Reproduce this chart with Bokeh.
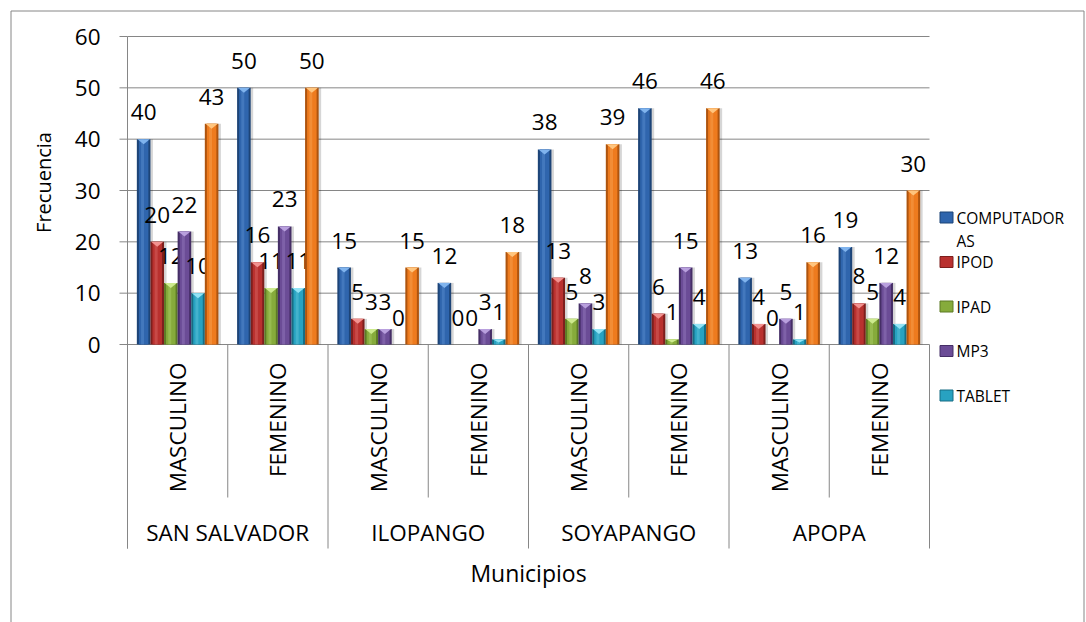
import math

from bokeh.core.properties import value
from bokeh.embed import file_html
from bokeh.models import Range1d
from bokeh.plotting import figure
from bokeh.resources import INLINE

# ---- data -------------------------------------------------------------
municipios = ["SAN SALVADOR", "ILOPANGO", "SOYAPANGO", "APOPA"]
generos = ["MASCULINO", "FEMENINO"]

computadoras = [40, 50, 15, 12, 38, 46, 13, 19]
ipod = [20, 16, 5, 0, 13, 6, 4, 8]
ipad = [12, 11, 3, 0, 5, 1, 0, 5]
mp3 = [22, 23, 3, 3, 8, 15, 5, 12]
tablet = [10, 11, 0, 1, 3, 4, 1, 4]
total = [43, 50, 15, 18, 39, 46, 16, 30]

series_names = ["COMPUTADORAS", "IPOD", "IPAD", "MP3", "TABLET", "TOTAL"]
series_values = [computadoras, ipod, ipad, mp3, tablet, total]
legend_names = series_names[:5]

y_ticks = [0, 10, 20, 30, 40, 50, 60]
y_title = "Frecuencia"
x_title = "Municipios"

# ---- styling ----------------------------------------------------------
# (main, edge, highlight) shades for each series
shades = [
    ("#2F65AD", "#1D4477", "#80B4EE"),
    ("#B9312F", "#7D1F1D", "#F29290"),
    ("#86AB3B", "#5C7A25", "#CDEA8E"),
    ("#6B4C96", "#452E66", "#B9A0DE"),
    ("#28A2C1", "#166D84", "#92E3F5"),
    ("#EE7B1E", "#AE540E", "#FFC57E"),
]
FONT = value("Open Sans")
AXIS_GRAY = "#868686"

W, H = 1086, 622
PL, PR, PT, PB = 127, 929, 36, 344          # plot area in pixels
n_cat = len(municipios) * len(generos)
XU = (PR - PL) / n_cat                        # pixels per category
YU = (PB - PT) / (y_ticks[-1] - y_ticks[0])   # pixels per unit of frequency


def sx(px):
    return (px - PL) / XU


def sy(py):
    return (PB - py) / YU


p = figure(
    width=W, height=H,
    x_range=Range1d(sx(0), sx(W)), y_range=Range1d(sy(H), sy(0)),
    min_border=0, toolbar_location=None, output_backend="svg",
    x_axis_location=None, y_axis_location=None,
    outline_line_color=None, background_fill_color="white",
    border_fill_color="white",
)
p.grid.visible = False

# ---- chart frame (left, top, right edges) -----------------------------
p.segment(x0=[sx(10.5), sx(10.5), sx(1083.5)], y0=[sy(622), sy(10.5), sy(10.5)],
          x1=[sx(10.5), sx(1083.5), sx(1083.5)], y1=[sy(10.5), sy(10.5), sy(622)],
          line_color=AXIS_GRAY, line_width=1)

# ---- grid lines, axis ticks -------------------------------------------
p.segment(x0=[0] * len(y_ticks), x1=[n_cat] * len(y_ticks), y0=y_ticks, y1=y_ticks,
          line_color=AXIS_GRAY, line_width=1)
p.segment(x0=[sx(119)] * len(y_ticks), x1=[0] * len(y_ticks), y0=y_ticks, y1=y_ticks,
          line_color=AXIS_GRAY, line_width=1)
p.segment(x0=[0], x1=[0], y0=[y_ticks[-1]], y1=[sy(548)],
          line_color=AXIS_GRAY, line_width=1)

# category separators: short ones between genders, long ones between municipios
inner = [2 * k + 1 for k in range(len(municipios))]
outer = [2 * k for k in range(len(municipios) + 1)]
p.segment(x0=inner, x1=inner, y0=[0] * len(inner), y1=[sy(497)] * len(inner),
          line_color=AXIS_GRAY, line_width=1)
p.segment(x0=outer, x1=outer, y0=[0] * len(outer), y1=[sy(548)] * len(outer),
          line_color=AXIS_GRAY, line_width=1)

# ---- bars ---------------------------------------------------------------
n_series = len(series_values)
BW = 0.8 * 1.017 / n_series
cap = 5 / YU
for j, (vals, (main, edge, light)) in enumerate(zip(series_values, shades)):
    xs = [i + 0.5 + (j - (n_series - 1) / 2) * BW for i in range(n_cat)]
    p.vbar(x=[x + 2.5 / XU for x in xs], top=vals, bottom=0, width=BW,
           fill_color="black", fill_alpha=0.16, line_color=None)
    p.vbar(x=xs, top=vals, bottom=0, width=BW, fill_color=edge, line_color=None)
    p.vbar(x=xs, top=vals, bottom=0, width=BW * 0.7, fill_color=main, line_color=None)
    p.vbar(x=[x - BW * 0.08 for x in xs], top=vals, bottom=0, width=BW * 0.22,
           fill_color=light, fill_alpha=0.25, line_color=None)
    tri_x, tri_y = [], []
    for x, v in zip(xs, vals):
        if v <= 0:
            continue
        d = min(cap, v * 0.6)
        tri_x.append([x - BW * 0.45, x + BW * 0.45, x])
        tri_y.append([v, v, v - d])
    p.patches(tri_x, tri_y, fill_color=light, line_color=None)

    # value labels above each bar
    p.text(x=xs, y=[v + 27 / YU for v in vals], text=[str(v) for v in vals],
           text_font=FONT, text_font_size="22.5px", text_color="black",
           text_align="center", text_baseline="middle")

# ---- axis labels --------------------------------------------------------
p.text(x=[sx(100)] * len(y_ticks), y=y_ticks, text=[str(t) for t in y_ticks],
       text_font=FONT, text_font_size="22.5px", text_color="black",
       text_align="right", text_baseline="middle")
p.text(x=[sx(43)], y=[sy(182)], text=[y_title], angle=math.pi / 2,
       text_font=FONT, text_font_size="20px", text_color="black",
       text_align="center", text_baseline="middle")

gender_labels = [g for _ in municipios for g in generos]
p.text(x=[i + 0.5 for i in range(n_cat)], y=[sy(362)] * n_cat, text=gender_labels,
       angle=math.pi / 2, text_font=FONT, text_font_size="22.5px", text_color="black",
       text_align="right", text_baseline="middle")
p.text(x=[2 * k + 1 for k in range(len(municipios))], y=[sy(532)] * len(municipios),
       text=municipios, text_font=FONT, text_font_size="22.5px", text_color="black",
       text_align="center", text_baseline="middle")
p.text(x=[n_cat / 2], y=[sy(572)], text=[x_title], text_font=FONT,
       text_font_size="23px", text_color="black",
       text_align="center", text_baseline="middle")

# ---- legend -------------------------------------------------------------
def wrap(name, width=10):
    return [name[i:i + width] for i in range(0, len(name), width)]


sw_x, sw_y, sw_c, sw_e = [], [], [], []
lt_x, lt_y, lt_t = [], [], []
for k, name in enumerate(legend_names):
    cy = 217 + k * 44.5
    sw_x.append(sx(946))
    sw_y.append(sy(cy))
    sw_c.append(shades[k][0])
    sw_e.append(shades[k][1])
    for r, line in enumerate(wrap(name)):
        lt_x.append(sx(956))
        lt_y.append(sy(cy + r * 23))
        lt_t.append(line)

p.rect(x=sw_x, y=sw_y, width=13 / XU, height=11 / YU, fill_color=sw_c,
       line_color=sw_e, line_width=1)
p.text(x=lt_x, y=lt_y, text=lt_t, text_font=FONT, text_font_size="15.5px",
       text_color="black", text_align="left", text_baseline="middle")

open("out.html", "w").write(file_html(p, INLINE))
